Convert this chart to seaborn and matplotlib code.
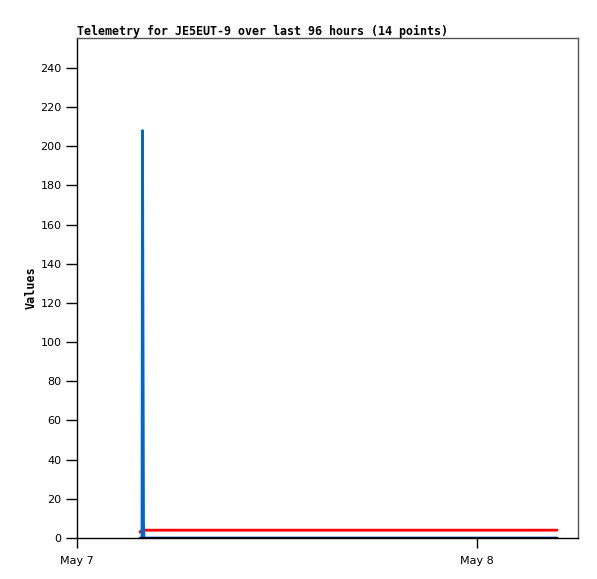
import matplotlib
matplotlib.use("Agg")
import matplotlib.pyplot as plt
import seaborn as sns
import pandas as pd
import numpy as np

# hours after May 7 00:00
hours = [3.78, 3.90, 3.93, 3.99, 4.02, 6.0, 8.5, 11.0, 14.0, 17.0, 20.0, 23.0, 26.0, 28.8]
blue_vals = [0.0, 0.0, 208.0, 8.0, 0.0, 0.0, 0.0, 0.0, 0.0, 0.0, 0.0, 0.0, 0.0, 0.0]
red_vals = [3.0, 4.0, 4.0, 4.0, 4.0, 4.0, 4.0, 4.0, 4.0, 4.0, 4.0, 4.0, 4.0, 4.0]
black_vals = [0.0] * 14
series_names = ["red", "blue", "black"]
series_colors = ["#ff0000", "#0066cc", "#000000"]
title = "Telemetry for JE5EUT-9 over last 96 hours (14 points)"
xtick_labels = ["May 7", "May 8"]

base = pd.Timestamp("2024-05-07 00:00")
times = [base + pd.Timedelta(hours=h) for h in hours]
df = pd.DataFrame({
    "time": times * 3,
    "value": red_vals + blue_vals + black_vals,
    "series": ["red"] * 14 + ["blue"] * 14 + ["black"] * 14,
})

sns.set_style("white")
fig = plt.figure(figsize=(5.97, 5.79), dpi=100)
ax = fig.add_axes([77 / 597, 41 / 579, 501 / 597, 500 / 579])
sns.lineplot(data=df, x="time", y="value", hue="series", hue_order=series_names,
             palette=series_colors, linewidth=2, legend=False, ax=ax,
             estimator=None, sort=False)

ax.set_xlim(base, base + pd.Timedelta(hours=30.06))
ax.set_ylim(0, 255.3)
ax.set_yticks(np.arange(0, 241, 20))
ax.set_xticks([base, base + pd.Timedelta(days=1)])
ax.set_xticklabels(xtick_labels)
ax.tick_params(axis="y", direction="out", length=8, width=1, color="black",
               labelcolor="black", labelsize=8, pad=3, left=True)
ax.tick_params(axis="x", direction="out", length=7, width=1, color="black",
               labelcolor="black", labelsize=8, pad=6, bottom=True)
for lab in ax.get_xticklabels() + ax.get_yticklabels():
    lab.set_family("DejaVu Sans")
for s in ax.spines.values():
    s.set_color("#555555")
    s.set_linewidth(1)
ax.spines["left"].set_color("black")
ax.spines["bottom"].set_color("black")
ax.set_xlabel("")
ax.set_ylabel("Values", family="DejaVu Sans Mono", fontweight="bold", fontsize=8.5,
              color="black")
ax.yaxis.set_label_coords(-39 / 501, 0.5)
ax.set_title(title, family="DejaVu Sans Mono", fontweight="bold", fontsize=8.35,
             loc="left", pad=2, color="black")
fig.savefig("out.png", dpi=100)
